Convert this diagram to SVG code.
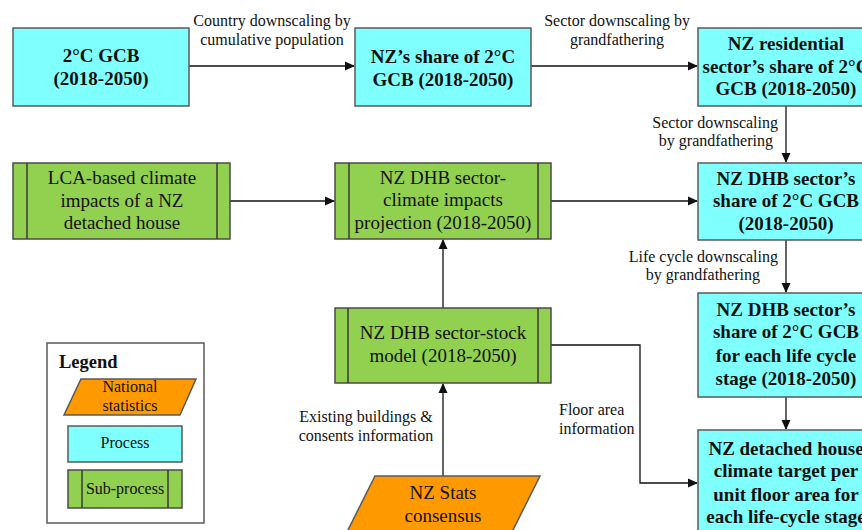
<svg xmlns="http://www.w3.org/2000/svg" width="862" height="530" viewBox="0 0 862 530" font-family="Liberation Serif, serif">
<style>
.proc{fill:#80FFFF;stroke:#595959;stroke-width:1.5}
.sub{fill:#92D050;stroke:#4a4a4a;stroke-width:1.5}
.sl{stroke:#3a3a3a;stroke-width:1.5}
.stat{fill:#FF9900;stroke:#595959;stroke-width:1.5}
.bt{font-family:'Liberation Serif',serif;font-weight:bold;font-size:19px;fill:#111;text-anchor:middle}
.nt{font-family:'Liberation Serif',serif;font-size:19px;fill:#111;text-anchor:middle}
.lb{font-family:'Liberation Serif',serif;font-size:16px;fill:#111;text-anchor:middle}
.lt{font-family:'Liberation Serif',serif;font-size:16px;fill:#111;text-anchor:middle}
.c{fill:none;stroke:#111;stroke-width:1.3}
</style>
<defs>
<marker id="ah" markerWidth="10" markerHeight="10" refX="9" refY="5" orient="auto" markerUnits="userSpaceOnUse">
<path d="M0,0.5 L10,5 L0,9.5 Z" fill="#111"/>
</marker>
</defs>
<rect width="862" height="530" fill="#fff"/>
<g id="connectors">
<path class="c" d="M189,66 H354" marker-end="url(#ah)"/>
<path class="c" d="M531,66 H697" marker-end="url(#ah)"/>
<path class="c" d="M786,106 V162" marker-end="url(#ah)"/>
<path class="c" d="M786,240 V292" marker-end="url(#ah)"/>
<path class="c" d="M786,397 V429" marker-end="url(#ah)"/>
<path class="c" d="M230,201 H334" marker-end="url(#ah)"/>
<path class="c" d="M551,201 H697" marker-end="url(#ah)"/>
<path class="c" d="M443,308 V240" marker-end="url(#ah)"/>
<path class="c" d="M443,476 V384" marker-end="url(#ah)"/>
<path class="c" d="M551,345 H640 V483 H697" marker-end="url(#ah)"/>
<text class="lb" x="272" y="26">Country downscaling by</text>
<text class="lb" x="272" y="45">cumulative population</text>
<text class="lb" x="617" y="26">Sector downscaling by</text>
<text class="lb" x="617" y="45">grandfathering</text>
<text class="lb" x="778" y="128" style="text-anchor:end">Sector downscaling</text>
<text class="lb" x="773" y="146" style="text-anchor:end">by grandfathering</text>
<text class="lb" x="778" y="262" style="text-anchor:end">Life cycle downscaling</text>
<text class="lb" x="760" y="280" style="text-anchor:end">by grandfathering</text>
<text class="lb" x="366" y="422">Existing buildings &amp;</text>
<text class="lb" x="366" y="441">consents information</text>
<text class="lb" x="559" y="415" style="text-anchor:start">Floor area</text>
<text class="lb" x="559" y="434" style="text-anchor:start">information</text>
</g>
<g id="gcb">
<rect class="proc" x="13" y="28" width="176" height="78"/>
<text class="bt" x="101" y="62">2°C GCB</text>
<text class="bt" x="101" y="85">(2018-2050)</text>
</g>
<g id="nz-share">
<rect class="proc" x="355" y="28" width="176" height="78"/>
<text class="bt" x="443" y="63">NZ’s share of 2°C</text>
<text class="bt" x="443" y="86">GCB (2018-2050)</text>
</g>
<g id="residential">
<rect class="proc" x="698" y="28" width="176" height="78"/>
<text class="bt" x="786" y="50">NZ residential</text>
<text class="bt" x="786" y="73">sector’s share of 2°C</text>
<text class="bt" x="786" y="95">GCB (2018-2050)</text>
</g>
<g id="dhb-share">
<rect class="proc" x="698" y="163" width="176" height="77"/>
<text class="bt" x="786" y="185">NZ DHB sector’s</text>
<text class="bt" x="786" y="207">share of 2°C GCB</text>
<text class="bt" x="786" y="230">(2018-2050)</text>
</g>
<g id="dhb-lifecycle">
<rect class="proc" x="698" y="293" width="176" height="104"/>
<text class="bt" x="786" y="316">NZ DHB sector’s</text>
<text class="bt" x="786" y="338">share of 2°C GCB</text>
<text class="bt" x="786" y="362">for each life cycle</text>
<text class="bt" x="786" y="385">stage (2018-2050)</text>
</g>
<g id="target">
<rect class="proc" x="698" y="430" width="176" height="110"/>
<text class="bt" x="786" y="455">NZ detached house</text>
<text class="bt" x="786" y="477">climate target per</text>
<text class="bt" x="786" y="501">unit floor area for</text>
<text class="bt" x="786" y="523">each life-cycle stage</text>
</g>
<g id="lca">
<rect class="sub" x="13" y="163" width="217" height="76"/>
<line class="sl" x1="27" y1="163" x2="27" y2="239"/>
<line class="sl" x1="217" y1="163" x2="217" y2="239"/>
<text class="nt" x="122" y="184">LCA-based climate</text>
<text class="nt" x="122" y="207">impacts of a NZ</text>
<text class="nt" x="122" y="229">detached house</text>
</g>
<g id="projection">
<rect class="sub" x="335" y="163" width="216" height="76"/>
<line class="sl" x1="349" y1="163" x2="349" y2="239"/>
<line class="sl" x1="538" y1="163" x2="538" y2="239"/>
<text class="nt" x="443" y="184">NZ DHB sector-</text>
<text class="nt" x="443" y="206">climate impacts</text>
<text class="nt" x="443" y="229">projection (2018-2050)</text>
</g>
<g id="stock">
<rect class="sub" x="335" y="308" width="216" height="75"/>
<line class="sl" x1="348" y1="308" x2="348" y2="383"/>
<line class="sl" x1="538" y1="308" x2="538" y2="383"/>
<text class="nt" x="443" y="339">NZ DHB sector-stock</text>
<text class="nt" x="443" y="362">model (2018-2050)</text>
</g>
<g id="stats">
<polygon class="stat" points="375,476 540,476 502,552 337,552"/>
<text class="nt" x="443" y="499">NZ Stats</text>
<text class="nt" x="443" y="522">consensus</text>
</g>
<g id="legend">
<rect x="47" y="343" width="157" height="180" fill="#fff" stroke="#595959" stroke-width="1.5"/>
<text x="59" y="368" font-family="Liberation Serif, serif" font-weight="bold" font-size="18.5" fill="#111">Legend</text>
<polygon class="stat" points="81,379 196,379 180,415 64,415"/>
<text class="lt" x="130" y="392">National</text>
<text class="lt" x="130" y="411">statistics</text>
<rect class="proc" x="68" y="426" width="114" height="36"/>
<text class="lt" x="125" y="448">Process</text>
<rect class="sub" x="68" y="470" width="114" height="38"/>
<line class="sl" x1="82" y1="470" x2="82" y2="508"/>
<line class="sl" x1="168" y1="470" x2="168" y2="508"/>
<text class="lt" x="125" y="494">Sub-process</text>
</g>
</svg>
